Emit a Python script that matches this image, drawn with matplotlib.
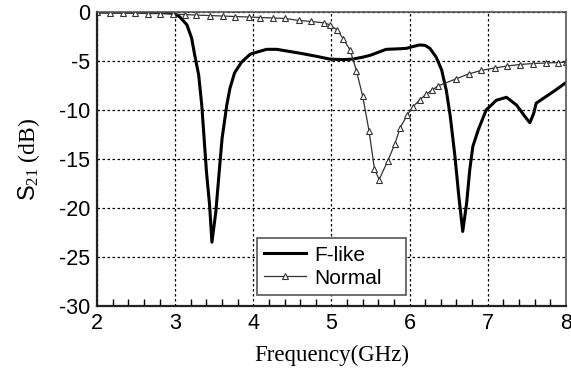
import numpy as np
import matplotlib.pyplot as plt
from matplotlib.ticker import MultipleLocator

plt.rcParams['axes.unicode_minus'] = False
plt.rcParams['mathtext.fontset'] = 'custom'
plt.rcParams['mathtext.rm'] = 'Liberation Serif'
plt.rcParams['mathtext.it'] = 'Liberation Serif'
plt.rcParams['mathtext.sf'] = 'Liberation Sans'

# F-like filter response
flike_f = [2.0, 2.5, 2.9, 2.98, 3.06, 3.15, 3.21, 3.25, 3.30, 3.34, 3.37, 3.40, 3.44,
           3.47, 3.52, 3.56, 3.60, 3.66, 3.70, 3.76, 3.85, 3.96, 4.04, 4.17, 4.3,
           4.45, 4.6, 4.8, 4.98, 5.15, 5.27, 5.4, 5.5, 5.6, 5.7, 5.85, 5.96, 6.05,
           6.13, 6.2, 6.26, 6.34, 6.41, 6.47, 6.52, 6.58, 6.63, 6.68, 6.73, 6.77,
           6.81, 6.88, 6.98, 7.11, 7.24, 7.37, 7.47, 7.54, 7.59, 7.62, 7.75, 7.88, 8.0]
flike_db = [0.0, 0.0, -0.05, -0.1, -0.5, -1.3, -2.65, -4.4, -6.4, -9.5, -12.9, -16.3, -19.7,
            -23.5, -20.4, -16.6, -12.9, -9.5, -7.8, -6.2, -5.1, -4.3, -4.1, -3.8, -3.8,
            -4.0, -4.2, -4.5, -4.8, -4.85, -4.8, -4.6, -4.4, -4.1, -3.8, -3.75, -3.7, -3.5,
            -3.35, -3.4, -3.7, -4.6, -5.9, -8.0, -10.6, -14.7, -18.8, -22.4, -19.5, -16.1,
            -13.7, -12.0, -10.0, -9.0, -8.7, -9.5, -10.6, -11.3, -10.3, -9.3, -8.6, -7.9, -7.2]

# Normal filter response (marker positions)
normal_f = [2.0, 2.17, 2.33, 2.49, 2.65, 2.80, 2.97, 3.12, 3.27, 3.44, 3.61, 3.77,
            3.94, 4.09, 4.25, 4.41, 4.58, 4.74, 4.91, 4.98, 5.07, 5.15, 5.24, 5.32,
            5.40, 5.48, 5.55, 5.61, 5.72, 5.81, 5.88, 5.97, 6.04, 6.13, 6.21, 6.29,
            6.36, 6.60, 6.76, 6.92, 7.09, 7.25, 7.41, 7.58, 7.74, 7.90, 8.0]
normal_db = [0.0, -0.05, -0.1, -0.1, -0.15, -0.15, -0.2, -0.25, -0.3, -0.35, -0.4, -0.45,
             -0.5, -0.55, -0.6, -0.65, -0.85, -0.95, -1.1, -1.3, -1.8, -2.7, -3.9, -6.0,
             -8.6, -12.1, -16.0, -17.1, -15.2, -13.5, -11.8, -10.5, -9.7, -8.95, -8.4, -7.95,
             -7.55, -6.8, -6.3, -5.95, -5.7, -5.5, -5.35, -5.25, -5.2, -5.15, -5.1]

xticks = [2, 3, 4, 5, 6, 7, 8]
yticks = [0, -5, -10, -15, -20, -25, -30]

fig = plt.figure(figsize=(5.71, 3.79), dpi=100)
ax = fig.add_axes([0.170, 0.193, 0.821, 0.775])

ax.plot(flike_f, flike_db, color='black', lw=2.2, label='F-like')
ax.plot(normal_f, normal_db, color='#333333', lw=0.9, marker='^', ms=5,
        mfc='white', mec='#333333', mew=0.8, label='Normal')

ax.set_xlim(2, 8)
ax.set_ylim(-30, 0)
ax.set_xticks(xticks)
ax.set_yticks(yticks)
ax.xaxis.set_minor_locator(MultipleLocator(0.2))
ax.tick_params(which='both', direction='in', top=False, right=False)
ax.tick_params(which='major', length=0, labelsize=15.5, pad=5)
ax.tick_params(which='minor', length=5, width=1)
for lab in ax.get_xticklabels() + ax.get_yticklabels():
    lab.set_family('Liberation Sans')

ax.grid(True, which='major', ls=(0, (2, 2)), color='black', lw=0.9)
for side in ['left', 'bottom']:
    ax.spines[side].set_linewidth(1.6)
    ax.spines[side].set_color('#222222')
for side in ['top', 'right']:
    ax.spines[side].set_linewidth(1.2)
    ax.spines[side].set_color('#555555')

ax.set_xlabel('Frequency(GHz)', family='Liberation Serif', fontsize=16.5, labelpad=8)
ax.set_ylabel(r'$\mathsf{S}_{21}$ (dB)', family='Liberation Serif', fontsize=17, labelpad=12)

leg = ax.legend(loc='lower left', bbox_to_anchor=(0.341, 0.037, 0.318, 0.232),
                mode='expand', fancybox=False, framealpha=1, edgecolor='#555555',
                prop={'family': 'Liberation Sans', 'size': 15}, borderaxespad=0,
                handlelength=2.0, handletextpad=0.4, labelspacing=0.2,
                borderpad=0.35)
leg.get_frame().set_linewidth(1.2)

fig.savefig('out.png', dpi=100)
